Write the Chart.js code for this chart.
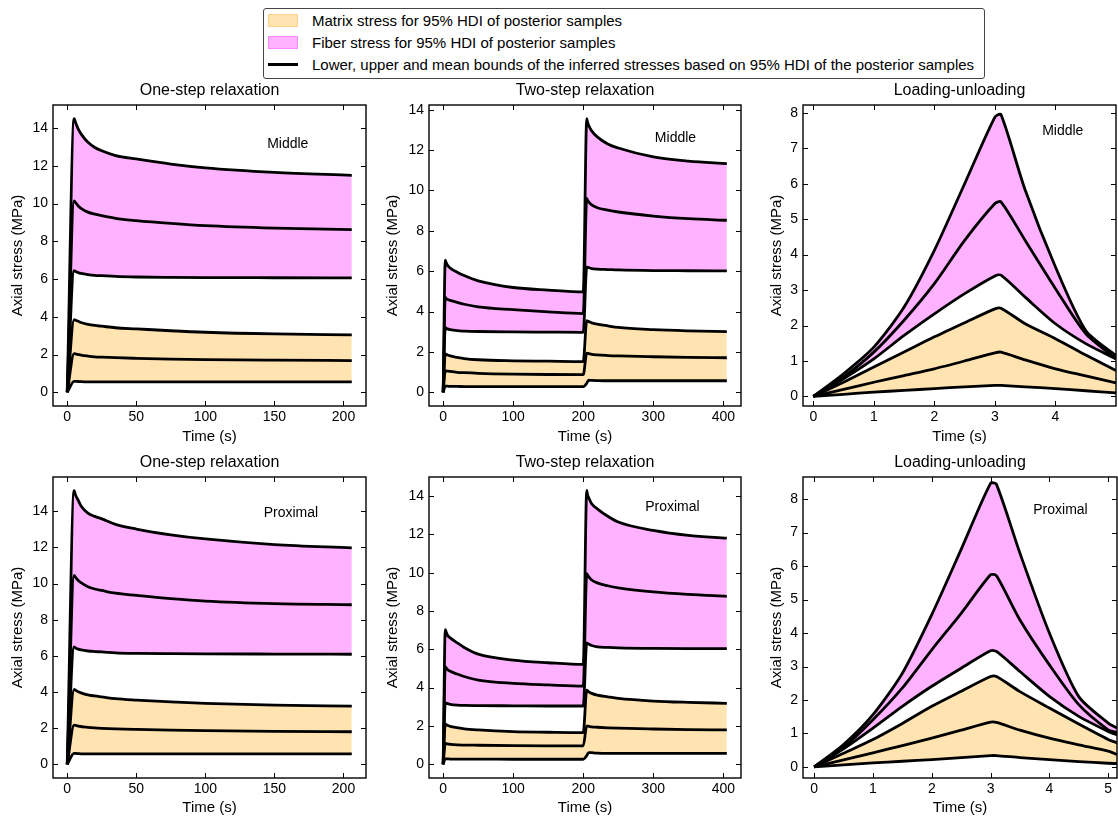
<!DOCTYPE html>
<html>
<head>
<meta charset="utf-8">
<script src="https://cdn.jsdelivr.net/npm/chart.js@4.4.1/dist/chart.umd.min.js"></script>
<style>
  body { margin: 0; background: #fff; font-family: "Liberation Sans", Arial, sans-serif; }
  #wrap { position: relative; width: 1118px; height: 822px; overflow: hidden; background: #fff; }
  #wrap canvas { position: absolute; }
  #legend { position: absolute; left: 263px; top: 8px; width: 720px; height: 69px; border: 1px solid #444; border-radius: 3px; }
  #legend .row { position: absolute; left: 48px; font-size: 15px; color: #000; line-height: 16px; white-space: nowrap; }
  #legend .key { position: absolute; left: 4px; width: 30px; }
</style>
</head>
<body>
<div id="wrap">
  <div id="legend">
    <div class="key" style="top:5px;height:13px;background:#FFE4B2;border:1px solid #FFD08A;box-sizing:border-box"></div>
    <div class="row" style="top:4px">Matrix stress for 95% HDI of posterior samples</div>
    <div class="key" style="top:27px;height:13px;background:#FFB2FF;border:1px solid #FF88FF;box-sizing:border-box"></div>
    <div class="row" style="top:26px">Fiber stress for 95% HDI of posterior samples</div>
    <div class="key" style="top:54px;height:3px;background:#000"></div>
    <div class="row" style="top:48px">Lower, upper and mean bounds of the inferred stresses based on 95% HDI of the posterior samples</div>
  </div>
  <canvas id="p1"></canvas>
  <canvas id="p2"></canvas>
  <canvas id="p3"></canvas>
  <canvas id="p4"></canvas>
  <canvas id="p5"></canvas>
  <canvas id="p6"></canvas>
</div>
<script>
// --- data ---
// one-step relaxation
const oneStepTime = [0, 5, 6, 8, 10, 15, 20, 25, 35, 50, 75, 100, 150, 206];
const oneMidMatrixLow  = [0, 0.58, 0.58, 0.57, 0.56, 0.55, 0.55, 0.55, 0.55, 0.55, 0.55, 0.55, 0.55, 0.55];
const oneMidMatrixMean = [0, 2.05, 2.03, 2.00, 1.97, 1.92, 1.88, 1.86, 1.83, 1.80, 1.76, 1.73, 1.70, 1.68];
const oneMidMatrixUp   = [0, 3.85, 3.82, 3.76, 3.70, 3.60, 3.54, 3.50, 3.42, 3.36, 3.26, 3.18, 3.09, 3.04];
const oneMidFiberLow   = [0, 6.45, 6.40, 6.34, 6.30, 6.24, 6.20, 6.18, 6.14, 6.11, 6.09, 6.08, 6.07, 6.06];
const oneMidFiberMean  = [0, 10.15, 10.05, 9.88, 9.75, 9.55, 9.44, 9.36, 9.22, 9.10, 8.95, 8.83, 8.70, 8.62];
const oneMidFiberUp    = [0, 14.5, 14.3, 13.95, 13.7, 13.25, 12.98, 12.8, 12.55, 12.37, 12.1, 11.9, 11.66, 11.5];

const oneProxMatrixLow  = [0, 0.60, 0.60, 0.59, 0.58, 0.58, 0.58, 0.58, 0.58, 0.58, 0.58, 0.58, 0.58, 0.58];
const oneProxMatrixMean = [0, 2.17, 2.15, 2.11, 2.09, 2.04, 2.01, 1.99, 1.96, 1.93, 1.89, 1.86, 1.82, 1.80];
const oneProxMatrixUp   = [0, 4.14, 4.10, 4.01, 3.95, 3.84, 3.78, 3.73, 3.63, 3.55, 3.45, 3.37, 3.27, 3.22];
const oneProxFiberLow   = [0, 6.49, 6.44, 6.37, 6.33, 6.27, 6.24, 6.22, 6.17, 6.14, 6.12, 6.11, 6.10, 6.09];
const oneProxFiberMean  = [0, 10.45, 10.35, 10.17, 10.05, 9.82, 9.70, 9.62, 9.47, 9.35, 9.17, 9.03, 8.89, 8.83];
const oneProxFiberUp    = [0, 15.14, 14.9, 14.6, 14.3, 13.9, 13.72, 13.58, 13.28, 13.02, 12.7, 12.47, 12.16, 11.98];

// two-step relaxation
const twoStepTime = [0, 3, 4, 6, 10, 20, 30, 50, 100, 150, 200, 205, 206, 208, 212, 220, 235, 250, 300, 350, 405];
const twoMidMatrixLow  = [0, 0.30, 0.30, 0.30, 0.29, 0.29, 0.28, 0.28, 0.28, 0.28, 0.28, 0.45, 0.52, 0.60, 0.59, 0.58, 0.57, 0.57, 0.57, 0.57, 0.57];
const twoMidMatrixMean = [0, 1.07, 1.06, 1.05, 1.03, 0.99, 0.97, 0.94, 0.90, 0.88, 0.87, 1.94, 1.93, 1.92, 1.88, 1.85, 1.82, 1.80, 1.76, 1.73, 1.71];
const twoMidMatrixUp   = [0, 1.90, 1.88, 1.85, 1.80, 1.73, 1.67, 1.61, 1.56, 1.54, 1.52, 3.55, 3.53, 3.50, 3.44, 3.38, 3.29, 3.21, 3.10, 3.04, 3.00];
const twoMidFiberLow   = [0, 3.20, 3.18, 3.14, 3.10, 3.05, 3.03, 3.01, 2.99, 2.98, 2.97, 6.21, 6.19, 6.17, 6.13, 6.10, 6.08, 6.06, 6.03, 6.02, 6.01];
const twoMidFiberMean  = [0, 4.70, 4.66, 4.60, 4.55, 4.45, 4.36, 4.23, 4.09, 3.98, 3.90, 9.60, 9.52, 9.42, 9.28, 9.14, 9.02, 8.93, 8.73, 8.60, 8.52];
const twoMidFiberUp    = [0, 6.54, 6.45, 6.30, 6.15, 5.95, 5.78, 5.52, 5.19, 5.06, 4.97, 13.55, 13.4, 13.2, 12.95, 12.65, 12.3, 12.1, 11.66, 11.45, 11.33];

const twoProxMatrixLow  = [0, 0.28, 0.28, 0.28, 0.27, 0.27, 0.27, 0.27, 0.26, 0.26, 0.26, 0.45, 0.52, 0.61, 0.60, 0.58, 0.57, 0.57, 0.57, 0.57, 0.57];
const twoProxMatrixMean = [0, 1.09, 1.08, 1.06, 1.04, 1.01, 1.00, 0.99, 0.97, 0.96, 0.96, 2.00, 1.99, 1.98, 1.95, 1.93, 1.90, 1.88, 1.84, 1.81, 1.79];
const twoProxMatrixUp   = [0, 2.10, 2.08, 2.03, 1.98, 1.91, 1.85, 1.79, 1.70, 1.67, 1.65, 3.87, 3.84, 3.78, 3.70, 3.61, 3.52, 3.44, 3.30, 3.23, 3.18];
const twoProxFiberLow   = [0, 3.21, 3.19, 3.16, 3.13, 3.09, 3.07, 3.06, 3.05, 3.04, 3.04, 6.34, 6.31, 6.27, 6.20, 6.13, 6.10, 6.08, 6.05, 6.04, 6.04];
const twoProxFiberMean  = [0, 5.09, 5.04, 4.95, 4.85, 4.71, 4.58, 4.39, 4.22, 4.14, 4.08, 9.95, 9.88, 9.78, 9.62, 9.47, 9.32, 9.21, 9.00, 8.87, 8.77];
const twoProxFiberUp    = [0, 7.03, 6.93, 6.75, 6.60, 6.34, 6.10, 5.75, 5.44, 5.30, 5.21, 14.3, 14.1, 13.9, 13.6, 13.34, 12.95, 12.65, 12.21, 11.95, 11.81];

// loading-unloading
const loadMidTime = [0, 0.5, 1, 1.5, 2, 2.5, 3, 3.1, 3.5, 4, 4.5, 5];
const loadMidMatrixLow  = [0, 0.06, 0.12, 0.17, 0.22, 0.27, 0.31, 0.31, 0.27, 0.22, 0.16, 0.10];
const loadMidMatrixMean = [0, 0.20, 0.40, 0.59, 0.78, 1.00, 1.23, 1.25, 1.03, 0.78, 0.58, 0.38];
const loadMidMatrixUp   = [0, 0.40, 0.83, 1.25, 1.68, 2.08, 2.47, 2.49, 2.05, 1.63, 1.17, 0.73];
const loadMidFiberLow   = [0, 0.50, 1.06, 1.72, 2.33, 2.90, 3.40, 3.42, 2.80, 2.05, 1.49, 1.06];
const loadMidFiberMean  = [0, 0.55, 1.25, 2.15, 3.18, 4.40, 5.44, 5.49, 4.40, 3.04, 1.77, 1.06];
const loadMidFiberUp    = [0, 0.64, 1.39, 2.52, 4.12, 6.00, 7.88, 7.95, 5.82, 3.65, 1.86, 1.15];

const loadProxTime = [0, 0.5, 1, 1.5, 2, 2.5, 3, 3.1, 3.5, 4, 4.5, 5, 5.15];
const loadProxMatrixLow  = [0, 0.06, 0.12, 0.17, 0.22, 0.28, 0.34, 0.34, 0.28, 0.22, 0.16, 0.11, 0.10];
const loadProxMatrixMean = [0, 0.21, 0.42, 0.64, 0.86, 1.10, 1.34, 1.33, 1.10, 0.86, 0.66, 0.47, 0.37];
const loadProxMatrixUp   = [0, 0.41, 0.82, 1.30, 1.81, 2.26, 2.70, 2.70, 2.25, 1.76, 1.28, 0.82, 0.72];
const loadProxFiberLow   = [0, 0.54, 1.16, 1.81, 2.41, 2.95, 3.47, 3.45, 2.85, 2.11, 1.51, 1.06, 0.96];
const loadProxFiberMean  = [0, 0.59, 1.41, 2.36, 3.50, 4.59, 5.74, 5.71, 4.39, 3.05, 1.86, 1.11, 1.03];
const loadProxFiberUp    = [0, 0.67, 1.56, 2.80, 4.55, 6.50, 8.47, 8.44, 6.38, 4.00, 2.10, 1.31, 1.16];

// tick labels
const relaxYTicks = [0, 2, 4, 6, 8, 10, 12, 14];
const loadYTicks = [0, 1, 2, 3, 4, 5, 6, 7, 8];
const oneStepXTicks = [0, 50, 100, 150, 200];
const twoStepXTicks = [0, 100, 200, 300, 400];
const loadMidXTicks = [0, 1, 2, 3, 4];
const loadProxXTicks = [0, 1, 2, 3, 4, 5];

const matrixFill = '#FFE4B2';
const fiberFill = '#FFB2FF';
const font = '"Liberation Sans", Arial, sans-serif';

// frame, inward ticks, title and location label
const framePlugin = {
  id: 'frame',
  afterDraw(chart, args, o) {
    const {ctx, chartArea: a} = chart;
    const x = chart.scales.x, y = chart.scales.y;
    ctx.save();
    ctx.strokeStyle = '#000';
    ctx.lineWidth = 1;
    ctx.beginPath();
    x.ticks.forEach(t => {
      const p = Math.round(x.getPixelForValue(t.value)) + 0.5;
      ctx.moveTo(p, a.bottom); ctx.lineTo(p, a.bottom - 5);
      ctx.moveTo(p, a.top); ctx.lineTo(p, a.top + 5);
    });
    y.ticks.forEach(t => {
      const p = Math.round(y.getPixelForValue(t.value)) + 0.5;
      ctx.moveTo(a.left, p); ctx.lineTo(a.left + 5, p);
      ctx.moveTo(a.right, p); ctx.lineTo(a.right - 5, p);
    });
    ctx.stroke();
    ctx.lineWidth = 1.4;
    ctx.strokeRect(a.left, a.top, a.right - a.left, a.bottom - a.top);
    ctx.fillStyle = '#000';
    ctx.textAlign = 'center';
    ctx.textBaseline = 'middle';
    ctx.font = '16px ' + font;
    ctx.fillText(o.title, (a.left + a.right) / 2, a.top - 14);
    ctx.font = '14px ' + font;
    ctx.fillText(o.tag, a.left + o.tagX * (a.right - a.left), a.top + o.tagY * (a.bottom - a.top));
    ctx.restore();
  }
};

function makePanel(id, p) {
  const canvas = document.getElementById(id);
  const left = p.box[0] - 53;
  const top = p.box[1] - 25;
  const width = Math.min(p.box[2] + 4, 1118) - left;
  const bottomH = p.row === 1 ? 40 : 39;
  const height = 25 + (p.box[3] - p.box[1]) + bottomH;
  canvas.style.left = left + 'px';
  canvas.style.top = top + 'px';
  canvas.width = width;
  canvas.height = height;

  const series = [p.ml, p.mm, p.mu, p.fl, p.fm, p.fu];
  const datasets = series.map((vals, i) => ({
    data: p.t.map((t, k) => ({x: t, y: vals[k]})),
    borderColor: '#000',
    borderWidth: 2.8,
    borderJoinStyle: 'round',
    pointRadius: 0,
    tension: p.smooth ? 0 : 0.25,
    cubicInterpolationMode: p.smooth ? 'monotone' : 'default',
    fill: i === 0 ? 2 : (i === 3 ? 5 : false),
    backgroundColor: i < 3 ? matrixFill : fiberFill
  }));

  new Chart(canvas, {
    type: 'line',
    data: {datasets},
    options: {
      responsive: false,
      animation: false,
      devicePixelRatio: 1,
      layout: {padding: {top: 25, left: 0, bottom: 0, right: width - 53 - (p.box[2] - p.box[0])}},
      plugins: {
        legend: {display: false},
        tooltip: {enabled: false},
        filler: {drawTime: 'beforeDatasetsDraw'},
        frame: {title: p.title, tag: p.tag, tagX: p.tagPos[0], tagY: p.tagPos[1]}
      },
      scales: {
        x: {
          type: 'linear', min: p.xr[0], max: p.xr[1],
          grid: {display: false, drawTicks: false},
          border: {display: false},
          afterBuildTicks: s => { s.ticks = p.xt.map(v => ({value: v})); },
          afterFit: s => { s.height = bottomH; },
          ticks: {color: '#000', padding: 3, maxRotation: 0, font: {family: font, size: 14}},
          title: {display: true, text: 'Time (s)', color: '#000', padding: {top: 0, bottom: 0}, font: {family: font, size: 15}}
        },
        y: {
          type: 'linear', min: p.yr[0], max: p.yr[1],
          grid: {display: false, drawTicks: false},
          border: {display: false},
          afterBuildTicks: s => { s.ticks = p.yt.map(v => ({value: v})); },
          afterFit: s => { s.width = 53; },
          ticks: {color: '#000', padding: 5, font: {family: font, size: 14}},
          title: {display: true, text: 'Axial stress (MPa)', color: '#000', padding: {top: p.ytPad, bottom: 0}, font: {family: font, size: 15}}
        }
      }
    },
    plugins: [framePlugin]
  });
}

makePanel('p1', {row: 1, box: [53, 105, 366, 406], title: 'One-step relaxation', tag: 'Middle', tagPos: [0.75, 0.13], ytPad: 9, smooth: true,
  xr: [-10.3, 216.3], yr: [-0.73, 15.23], xt: oneStepXTicks, yt: relaxYTicks, t: oneStepTime,
  ml: oneMidMatrixLow, mm: oneMidMatrixMean, mu: oneMidMatrixUp, fl: oneMidFiberLow, fm: oneMidFiberMean, fu: oneMidFiberUp});
makePanel('p2', {row: 1, box: [429, 105, 741, 406], title: 'Two-step relaxation', tag: 'Middle', tagPos: [0.79, 0.11], ytPad: 8, smooth: true,
  xr: [-20.25, 425.25], yr: [-0.68, 14.23], xt: twoStepXTicks, yt: relaxYTicks, t: twoStepTime,
  ml: twoMidMatrixLow, mm: twoMidMatrixMean, mu: twoMidMatrixUp, fl: twoMidFiberLow, fm: twoMidFiberMean, fu: twoMidFiberUp});
makePanel('p3', {row: 1, box: [803, 105, 1116, 406], title: 'Loading-unloading', tag: 'Middle', tagPos: [0.83, 0.087], ytPad: 18, smooth: false,
  xr: [-0.17, 5.0], yr: [-0.27, 8.22], xt: loadMidXTicks, yt: loadYTicks, t: loadMidTime,
  ml: loadMidMatrixLow, mm: loadMidMatrixMean, mu: loadMidMatrixUp, fl: loadMidFiberLow, fm: loadMidFiberMean, fu: loadMidFiberUp});
makePanel('p4', {row: 2, box: [53, 477, 366, 778], title: 'One-step relaxation', tag: 'Proximal', tagPos: [0.76, 0.12], ytPad: 9, smooth: true,
  xr: [-10.3, 216.3], yr: [-0.76, 15.9], xt: oneStepXTicks, yt: relaxYTicks, t: oneStepTime,
  ml: oneProxMatrixLow, mm: oneProxMatrixMean, mu: oneProxMatrixUp, fl: oneProxFiberLow, fm: oneProxFiberMean, fu: oneProxFiberUp});
makePanel('p5', {row: 2, box: [429, 477, 741, 778], title: 'Two-step relaxation', tag: 'Proximal', tagPos: [0.78, 0.10], ytPad: 8, smooth: true,
  xr: [-20.25, 425.25], yr: [-0.72, 15.0], xt: twoStepXTicks, yt: relaxYTicks, t: twoStepTime,
  ml: twoProxMatrixLow, mm: twoProxMatrixMean, mu: twoProxMatrixUp, fl: twoProxFiberLow, fm: twoProxFiberMean, fu: twoProxFiberUp});
makePanel('p6', {row: 2, box: [803, 477, 1117, 778], title: 'Loading-unloading', tag: 'Proximal', tagPos: [0.82, 0.11], ytPad: 18, smooth: false,
  xr: [-0.19, 5.15], yr: [-0.33, 8.66], xt: loadProxXTicks, yt: loadYTicks, t: loadProxTime,
  ml: loadProxMatrixLow, mm: loadProxMatrixMean, mu: loadProxMatrixUp, fl: loadProxFiberLow, fm: loadProxFiberMean, fu: loadProxFiberUp});
</script>
</body>
</html>
